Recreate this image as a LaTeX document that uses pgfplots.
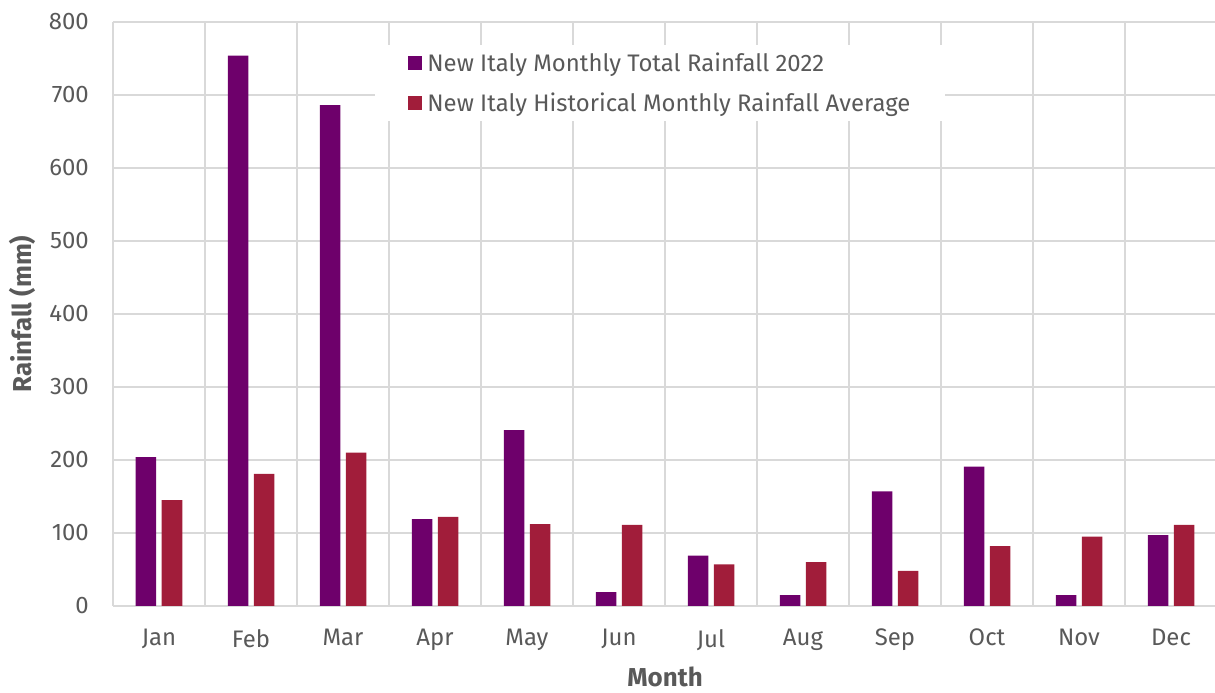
\documentclass[border=0pt]{standalone}
\usepackage{fontspec}
\setmainfont{Fira Sans}
\usepackage{pgfplots}
\pgfplotsset{compat=1.18}
\definecolor{txt}{HTML}{595959}
\definecolor{gridc}{HTML}{D9D9D9}
\definecolor{rainA}{HTML}{6E006B}
\definecolor{rainB}{HTML}{A11D3A}

\begin{document}
\begin{tikzpicture}[x=1bp,y=1bp]
\useasboundingbox (-113,-87) rectangle (1102,606);
\begin{axis}[
  at={(0,0)}, anchor=south west,
  scale only axis, width=1104bp, height=584bp,
  ymin=0, ymax=800, ytick={0,100,...,800},
  xmin=-0.5, xmax=11.5,
  xtick={0,...,11},
  xticklabels={Jan,Feb,Mar,Apr,May,Jun,Jul,Aug,Sep,Oct,Nov,Dec},
  minor xtick={-0.5,0.5,...,11.5},
  ymajorgrids=true, xminorgrids=true, xmajorgrids=false,
  grid style={gridc, line width=1.5bp},
  minor grid style={gridc, line width=1.5bp},
  axis line style={draw=none},
  tick style={draw=none},
  major tick length=0pt, minor tick length=0pt,
  /pgf/number format/assume math mode=true,
  tick label style={font=\fontsize{24}{28}\selectfont, text=txt},
  y tick label style={anchor=east, inner sep=0pt, xshift=-24bp},
  x tick label style={anchor=north, inner sep=0pt, yshift=-23bp},
  every axis y label/.style={at={(rel axis cs:0,0.5)}, xshift=-91bp,
    rotate=90, anchor=center, font=\bfseries\fontsize{26}{30}\selectfont, text=txt},
  every axis x label/.style={at={(rel axis cs:0.5,0)}, yshift=-71bp,
    anchor=center, inner sep=0pt, font=\bfseries\fontsize{26}{30}\selectfont, text=txt},
  ylabel={Rainfall (mm)},
  xlabel={Month},
  ybar=5.5bp, bar width=20.5bp,
  legend image code/.code={\fill[#1] (0bp,-7bp) rectangle (14bp,7bp); \path (17bp,0bp);},
  legend cell align=left,
  legend style={at={(0.2375,0.9606)}, anchor=north west, draw=none, fill=white,
    font=\fontsize{24}{28}\selectfont, text=txt,
    inner xsep=33bp, inner ysep=6bp, row sep=16bp},
]
% 2022 monthly totals
\addplot[fill=rainA, draw=none] coordinates {
  (0,204) (1,754) (2,686) (3,119) (4,241) (5,19)
  (6,69) (7,15) (8,157) (9,191) (10,15) (11,97)};
% long-term monthly averages
\addplot[fill=rainB, draw=none] coordinates {
  (0,145) (1,181) (2,210) (3,122) (4,112) (5,111)
  (6,57) (7,60) (8,48) (9,82) (10,95) (11,111)};
\legend{New Italy Monthly Total Rainfall 2022,
        New Italy Historical Monthly Rainfall Average}
\end{axis}
\end{tikzpicture}
\end{document}
